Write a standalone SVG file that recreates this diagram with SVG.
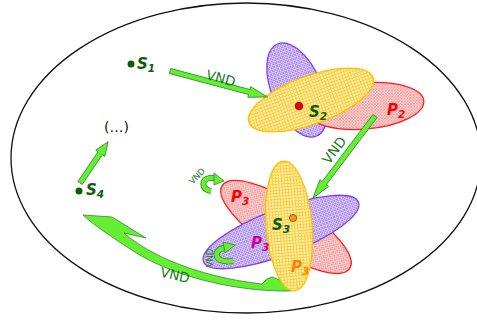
<svg xmlns="http://www.w3.org/2000/svg" width="477" height="320" viewBox="0 0 477 320">
<style>
.lbl{font-family:"DejaVu Sans","Liberation Sans",sans-serif;font-weight:bold;font-style:italic}
.s{fill:#0b5e0b;font-size:15px}
.sub{font-size:10.5px}
.vnd{font-family:"DejaVu Sans","Liberation Sans",sans-serif;fill:#1a7a1a;font-size:13.5px}
.vs{font-size:8.5px}
.arr{fill:#66ee33;stroke:#2e8b2e;stroke-width:0.8;stroke-linejoin:miter}
.ey{fill:url(#py);stroke:#ffc000;stroke-width:1.3}
.ep{fill:url(#pp);stroke:#8040e6;stroke-width:1.3}
.er{fill:url(#pr);stroke:#ff1a1a;stroke-width:1.3}
.dot{fill:#0b5e0b}
</style>
<defs>
<pattern id="py" width="3" height="3" patternUnits="userSpaceOnUse"><rect width="3" height="3" fill="#fff2b0"/><path d="M0,0.5H3M0.5,0V3" stroke="#f8c93a" stroke-width="0.9"/></pattern>
<pattern id="pp" width="3" height="3" patternUnits="userSpaceOnUse"><rect width="3" height="3" fill="#e4d8fa"/><path d="M0,0L3,3M3,0L0,3" stroke="#9266e6" stroke-width="0.65"/></pattern>
<pattern id="pr" width="3" height="3" patternUnits="userSpaceOnUse"><rect width="3" height="3" fill="#fcdcdc"/><path d="M0,0L3,3M3,0L0,3" stroke="#ef8484" stroke-width="0.65"/></pattern>
</defs>
<rect width="477" height="320" fill="#fff"/>
<ellipse id="space" cx="246" cy="158" rx="235" ry="155" fill="none" stroke="#111" stroke-width="1.3"/>

<g id="connectors-back">
<path class="arr" d="M83,215 L112,217 L146,238 L124,233 C150,256 200,277 262,284 Q266,278 272,277 Q279,280 291,283 L291,291 C250,292 180,282 130,249 C112,237 95,226 83,215 Z"/>
</g>

<g id="n-s1">
<circle class="dot" cx="131" cy="64" r="3.5"/>
<text class="lbl s" x="137" y="69">S<tspan class="sub" dy="3">1</tspan></text>
</g>

<g id="n-s2">
<ellipse class="ep" cx="297" cy="90" rx="50" ry="25" transform="rotate(67 297 90)"/>
<ellipse class="er" cx="365" cy="106" rx="59" ry="23" transform="rotate(-5 365 106)"/>
<ellipse class="ey" cx="311" cy="100" rx="66" ry="24" transform="rotate(-20 311 100)"/>
<circle cx="299" cy="106" r="3.8" fill="#ee0000" stroke="#8a0000" stroke-width="0.8"/>
<text class="lbl s" x="309" y="117">S<tspan class="sub" dy="3">2</tspan></text>
<text class="lbl" x="387" y="115" fill="#ff0000" font-size="15">P<tspan class="sub" dy="3">2</tspan></text>
</g>

<g id="n-s3">
<ellipse class="er" cx="286" cy="227" rx="76" ry="25" transform="rotate(33 286 227)"/>
<ellipse class="ep" cx="281" cy="232" rx="83" ry="23" transform="rotate(-21 281 232)"/>
<ellipse class="ey" cx="289" cy="226" rx="23" ry="65" transform="rotate(-5 289 226)"/>
<circle cx="293" cy="218" r="3.6" fill="#f7941d" stroke="#7a4a00" stroke-width="0.8"/>
<text class="lbl s" x="272" y="230">S<tspan class="sub" dy="3">3</tspan></text>
<text class="lbl" x="231" y="202" fill="#ff0000" font-size="15">P<tspan class="sub" dy="3">3</tspan></text>
<text class="lbl" x="251" y="248" fill="#cc0099" font-size="15">P<tspan class="sub" dy="3">3</tspan></text>
<text class="lbl" x="291" y="272" fill="#ff8000" font-size="15">P<tspan class="sub" dy="3">3</tspan></text>
</g>

<g id="n-s4">
<circle class="dot" cx="79" cy="191" r="3.5"/>
<text class="lbl s" x="86" y="195">S<tspan class="sub" dy="3">4</tspan></text>
</g>

<g id="n-etc">
<text x="116.5" y="132" text-anchor="middle" font-family="DejaVu Sans, sans-serif" font-size="14" fill="#111">(…)</text>
</g>

<g id="connectors">
<polygon class="arr" transform="translate(170,71) rotate(14.86)" points="0,-2.6 82,-2.6 82,-5.5 101,0 82,5.5 82,2.6 0,2.6"/>
<text class="vnd" x="221" y="83" text-anchor="middle" transform="rotate(15 221 78)">VND</text>
<polygon class="arr" transform="translate(375,116) rotate(127.1)" points="0,-2.6 84,-2.6 84,-5.5 103,0 84,5.5 84,2.6 0,2.6"/>
<text class="vnd" x="334" y="155" text-anchor="middle" transform="rotate(-53 334 150)">VND</text>
<polygon class="arr" transform="translate(80,183) rotate(-55.7)" points="0,-2.6 36,-2.6 36,-5.5 50,0 36,5.5 36,2.6 0,2.6"/>
<text class="vnd" x="175" y="280" text-anchor="middle" transform="rotate(13 175 275)">VND</text>
<g id="loop1">
<path d="M211,191 C201,189 201,179 210,178 L216,178" fill="none" stroke="#2e8b2e" stroke-width="6"/>
<path d="M211,191 C201,189 201,179 210,178 L216,178" fill="none" stroke="#66ee33" stroke-width="4.4"/>
<polygon class="arr" points="214,173 224,181 214,185"/>
<text class="vnd vs" x="197" y="179" text-anchor="middle" transform="rotate(-45 197 176)">VND</text>
</g>
<g id="loop2">
<path d="M233,261 C214,264 212,250 224,248" fill="none" stroke="#2e8b2e" stroke-width="6"/>
<path d="M233,261 C214,264 212,250 224,248" fill="none" stroke="#66ee33" stroke-width="4.4"/>
<polygon class="arr" points="223,242 235,245 225,253"/>
<text class="vnd vs" x="210" y="261" text-anchor="middle" transform="rotate(-90 210 258)">VND</text>
</g>
</g>
</svg>
